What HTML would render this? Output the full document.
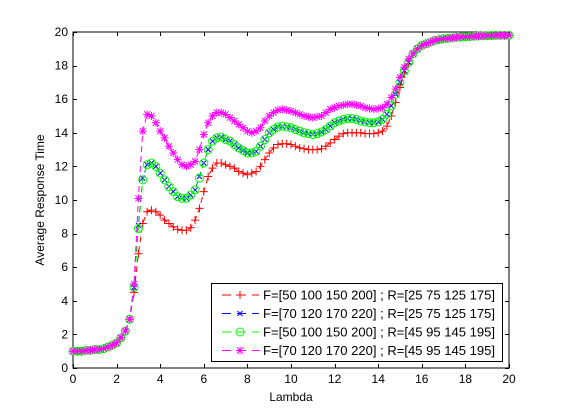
<!DOCTYPE html>
<html><head><meta charset="utf-8"><style>
html,body{margin:0;padding:0;background:#fff;}
svg{display:block;font-family:"Liberation Sans",Arial,sans-serif;}
</style></head><body>
<svg id="chart" width="561" height="414" viewBox="0 0 561 414" xmlns="http://www.w3.org/2000/svg">
<rect x="0" y="0" width="561" height="414" fill="#fff"/>
<g id="plot"></g>
</svg>
<script>
const xTicks=[0,2,4,6,8,10,12,14,16,18,20];
const yTicks=[0,2,4,6,8,10,12,14,16,18,20];
const lambdaStart=0, lambdaStep=0.2;
const seriesLabels=["F=[50 100 150 200] ; R=[25 75 125 175]","F=[70 120 170 220] ; R=[25 75 125 175]","F=[50 100 150 200] ; R=[45 95 145 195]","F=[70 120 170 220] ; R=[45 95 145 195]"];
const redValues=[1.0,1.0,1.0,1.05,1.05,1.1,1.1,1.15,1.25,1.35,1.5,1.8,2.2,2.9,4.5,6.8,8.6,9.3,9.4,9.3,9.1,8.8,8.6,8.4,8.25,8.2,8.2,8.35,8.8,9.5,10.5,11.4,11.9,12.2,12.2,12.1,12.0,11.9,11.7,11.6,11.5,11.6,11.7,12.0,12.4,12.8,13.1,13.3,13.35,13.35,13.3,13.2,13.1,13.05,13.0,13.0,13.0,13.05,13.2,13.4,13.6,13.8,13.95,14.0,14.0,14.0,14.0,13.95,13.95,13.95,14.0,14.1,14.4,15.0,15.8,16.7,17.5,18.1,18.7,19.0,19.2,19.3,19.4,19.5,19.55,19.6,19.62,19.65,19.68,19.7,19.72,19.73,19.75,19.76,19.77,19.78,19.79,19.8,19.8,19.8,19.8];
const blueValues=[1.0,1.0,1.0,1.05,1.05,1.1,1.1,1.15,1.25,1.35,1.5,1.8,2.2,2.9,4.8,8.5,11.3,12.1,12.2,12.0,11.6,11.2,10.8,10.5,10.2,10.1,10.1,10.3,10.6,11.4,12.2,13.0,13.5,13.7,13.75,13.6,13.5,13.3,13.1,12.95,12.8,12.8,12.9,13.2,13.6,14.0,14.2,14.35,14.4,14.35,14.3,14.2,14.1,14.0,13.95,13.9,13.95,14.05,14.2,14.4,14.6,14.7,14.8,14.85,14.85,14.8,14.7,14.65,14.6,14.6,14.65,14.8,15.1,15.6,16.3,17.0,17.7,18.2,18.7,19.0,19.2,19.3,19.4,19.5,19.55,19.6,19.62,19.65,19.68,19.7,19.72,19.73,19.75,19.76,19.77,19.78,19.79,19.8,19.8,19.8,19.8];
const greenValues=[1.0,1.0,1.0,1.05,1.05,1.1,1.1,1.15,1.25,1.35,1.5,1.8,2.2,2.9,4.8,8.3,11.2,12.1,12.2,12.0,11.6,11.2,10.8,10.5,10.2,10.1,10.1,10.3,10.6,11.3,12.2,13.0,13.5,13.7,13.75,13.6,13.5,13.3,13.1,12.95,12.8,12.8,12.9,13.2,13.6,14.0,14.2,14.35,14.4,14.35,14.3,14.2,14.1,14.0,13.95,13.9,13.95,14.05,14.2,14.4,14.6,14.7,14.8,14.85,14.85,14.8,14.7,14.65,14.6,14.6,14.65,14.8,15.1,15.6,16.3,17.0,17.7,18.2,18.7,19.0,19.2,19.3,19.4,19.5,19.55,19.6,19.62,19.65,19.68,19.7,19.72,19.73,19.75,19.76,19.77,19.78,19.79,19.8,19.8,19.8,19.8];
const magentaValues=[1.0,1.0,1.0,1.05,1.05,1.1,1.1,1.15,1.25,1.35,1.5,1.8,2.2,2.9,5.0,10.1,14.1,15.1,15.0,14.6,14.1,13.7,13.2,12.8,12.4,12.1,12.0,12.1,12.3,13.0,13.9,14.6,15.0,15.2,15.2,15.1,14.9,14.7,14.5,14.3,14.1,14.0,14.1,14.3,14.7,15.0,15.2,15.35,15.4,15.35,15.3,15.2,15.1,15.0,14.95,14.9,14.95,15.0,15.2,15.4,15.5,15.6,15.65,15.7,15.7,15.65,15.6,15.5,15.45,15.4,15.45,15.5,15.7,16.1,16.6,17.3,17.9,18.4,18.7,19.0,19.2,19.3,19.4,19.5,19.55,19.6,19.62,19.65,19.68,19.7,19.72,19.73,19.75,19.76,19.77,19.78,19.79,19.8,19.8,19.8,19.8];

const NS="http://www.w3.org/2000/svg";
const L=73,R=509,T=32,B=368;
const xs=v=>L+(v-0)/(20-0)*(R-L);
const ys=v=>B-(v-0)/(20-0)*(B-T);
const g=document.getElementById('plot');
function mk(tag,attrs,parent){const e=document.createElementNS(NS,tag);for(const k in attrs)e.setAttribute(k,attrs[k]);(parent||g).appendChild(e);return e;}

const box=mk('rect',{x:L,y:T,width:R-L,height:B-T,fill:'#fff',stroke:'#000','stroke-width':1});



xTicks.forEach(t=>{
  const x=Math.round(xs(t))+0.5;
  const tk=mk('path',{d:`M${x},${B} v-4 M${x},${T} v4`,stroke:'#000','stroke-width':1});
  
  
  const tx=mk('text',{x:xs(t),y:B+15,'text-anchor':'middle','font-size':12});
  tx.textContent=t;
  
  
});
yTicks.forEach(t=>{
  const y=Math.round(ys(t))+0.5;
  const tk=mk('path',{d:`M${L},${y} h4 M${R},${y} h-4`,stroke:'#000','stroke-width':1});
  
  
  const tx=mk('text',{x:L-5,y:ys(t)+4,'text-anchor':'end','font-size':12});
  tx.textContent=t;
  
  
});
const xl=mk('text',{x:291,y:401,'text-anchor':'middle','font-size':12});
xl.textContent='Lambda';


const yl=mk('text',{x:0,y:0,'text-anchor':'middle','font-size':12,transform:'translate(44,200) rotate(-90)'});
yl.textContent='Average Response Time';



function marker(type,x,y,color,parent){
  let d;
  if(type==='+')d=`M${x-4},${y}h8M${x},${y-4}v8`;
  else if(type==='x')d=`M${x-2.5},${y-2.5}l5,5M${x-2.5},${y+2.5}l5,-5`;
  else if(type==='*')d=`M${x-4},${y}h8M${x},${y-4}v8M${x-3},${y-3}l6,6M${x-3},${y+3}l6,-6`;
  if(type==='o')return mk('circle',{cx:x,cy:y,r:4,fill:'none',stroke:color,'stroke-width':1},parent);
  return mk('path',{d:d,fill:'none',stroke:color,'stroke-width':1},parent);
}
const series=[[redValues,'#ff0000','+','red'],[blueValues,'#0000ff','x','blue'],[greenValues,'#00ff00','o','green'],[magentaValues,'#ff00ff','*','magenta']];
series.forEach(([vals,color,m,nm])=>{
  const sg=mk('g',{});
  
  
  const pts=vals.map((v,i)=>[xs(lambdaStart+i*lambdaStep),ys(v)]);
  const ln=mk('polyline',{points:pts.map(p=>p.join(',')).join(' '),fill:'none',stroke:color,'stroke-width':1,'stroke-dasharray':'6,4'},sg);
  
  
  pts.forEach(p=>{
    const mm=marker(m,p[0],p[1],color,sg);
    
    
  });
});

const lg=mk('g',{});


const lb=mk('rect',{x:211.5,y:283.5,width:291,height:78,fill:'#fff',stroke:'#000','stroke-width':1},lg);


series.forEach(([vals,color,m,nm],i)=>{
  const y=295+i*18.5;
  const eg=mk('g',{},lg);
  
  
  mk('path',{d:`M222,${y}h37`,stroke:color,'stroke-width':1,'stroke-dasharray':'9,6'},eg);
  marker(m,240,y,color,eg);
  const t=mk('text',{x:263,y:y+4.5,'font-size':13,textLength:232,lengthAdjust:'spacingAndGlyphs'},eg);
  t.textContent=seriesLabels[i];
});
</script>
</body></html>
